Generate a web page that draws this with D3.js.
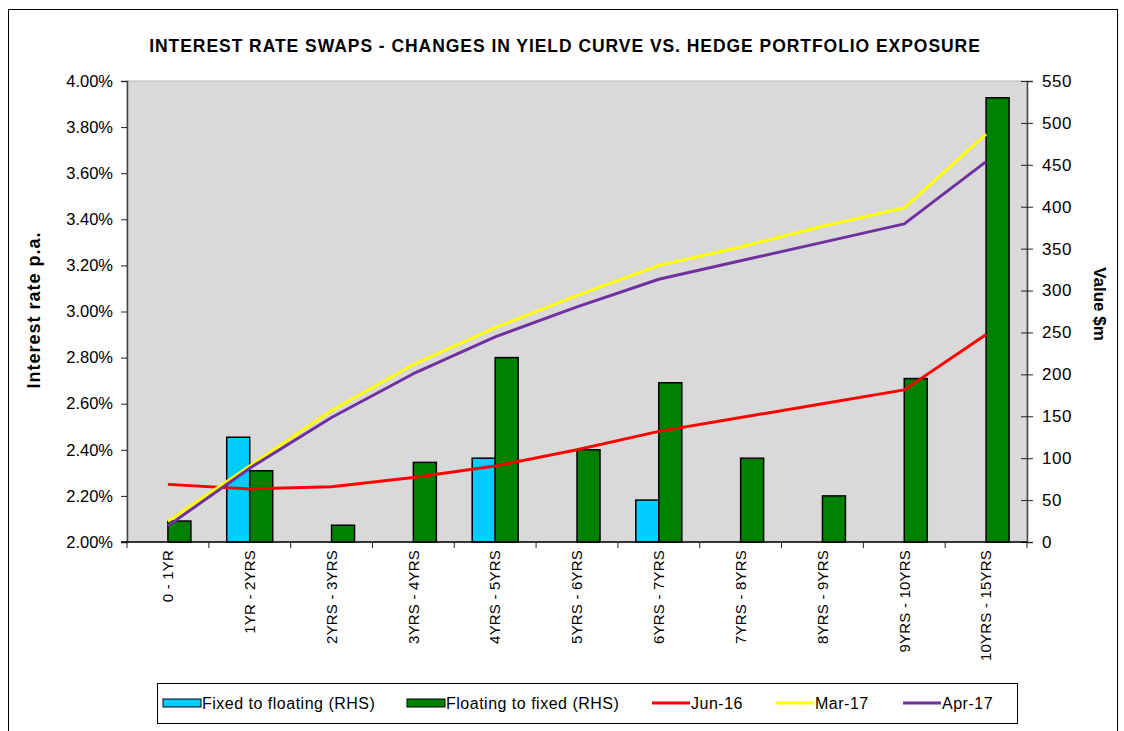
<!DOCTYPE html>
<html>
<head>
<meta charset="utf-8">
<script src="https://cdn.jsdelivr.net/npm/d3@7"></script>
<style>
  body { margin: 0; background: #fff; }
  svg text { font-family: "Liberation Sans", Arial, sans-serif; fill: #000; }
</style>
</head>
<body>
<div id="chart"></div>
<script>
// data
const categories = ["0 - 1YR", "1YR - 2YRS", "2YRS - 3YRS", "3YRS - 4YRS", "4YRS - 5YRS", "5YRS - 6YRS",
  "6YRS - 7YRS", "7YRS - 8YRS", "8YRS - 9YRS", "9YRS - 10YRS", "10YRS - 15YRS"];
const fixedToFloating = [0, 125, 0, 0, 100, 0, 50, 0, 0, 0, 0];
const floatingToFixed = [25, 85, 20, 95, 220, 110, 190, 100, 55, 195, 530];
const jun16 = [2.25, 2.23, 2.24, 2.28, 2.33, 2.40, 2.48, 2.54, 2.60, 2.66, 2.90];
const mar17 = [2.09, 2.33, 2.57, 2.77, 2.93, 3.07, 3.20, 3.28, 3.37, 3.45, 3.77];
const apr17 = [2.07, 2.32, 2.54, 2.73, 2.89, 3.02, 3.14, 3.22, 3.30, 3.38, 3.65];
const leftTicks = [2.0, 2.2, 2.4, 2.6, 2.8, 3.0, 3.2, 3.4, 3.6, 3.8, 4.0];
const rightTicks = [0, 50, 100, 150, 200, 250, 300, 350, 400, 450, 500, 550];

const W = 1124, H = 731;
const plot = { left: 127, right: 1027, top: 81, bottom: 542 };

const svg = d3.select('#chart').append('svg')
  .attr('width', W)
  .attr('height', H);

// outer chart border
svg.append('rect')
  .attr('x', 8.5).attr('y', 9.5)
  .attr('width', 1109).attr('height', 730)
  .attr('fill', '#fff').attr('stroke', '#000').attr('stroke-width', 1);

// title
svg.append('text')
  .attr('x', 565).attr('y', 52)
  .attr('text-anchor', 'middle')
  .style('font-size', '17.5px').style('font-weight', 'bold')
  .style('letter-spacing', '0.95px')
  .text('INTEREST RATE SWAPS - CHANGES IN YIELD CURVE VS. HEDGE PORTFOLIO EXPOSURE');

// scales
const x0 = d3.scaleBand().domain(categories).range([plot.left, plot.right]);
const bw = x0.bandwidth();
const x1 = d3.scaleBand().domain(['fixed', 'floating']).range([bw * 0.219, bw * 0.781]);
const yL = d3.scaleLinear().domain([2, 4]).range([plot.bottom, plot.top]);
const yR = d3.scaleLinear().domain([0, 550]).range([plot.bottom, plot.top]);

// plot area
svg.append('rect')
  .attr('x', plot.left).attr('y', plot.top)
  .attr('width', plot.right - plot.left).attr('height', plot.bottom - plot.top)
  .attr('fill', '#d9d9d9').attr('stroke', '#b5b5b5').attr('stroke-width', 1);

// bars
const barData = [];
categories.forEach((c, i) => {
  if (fixedToFloating[i] > 0) barData.push({ c: c, k: 'fixed', v: fixedToFloating[i] });
  if (floatingToFixed[i] > 0) barData.push({ c: c, k: 'floating', v: floatingToFixed[i] });
});
const colors = { fixed: '#00ccff', floating: '#008000' };

svg.append('g').selectAll('rect')
  .data(barData)
  .enter()
  .append('rect')
  .attr('x', d => x0(d.c) + x1(d.k))
  .attr('y', d => yR(d.v))
  .attr('width', x1.bandwidth())
  .attr('height', d => yR(0) - yR(d.v))
  .attr('fill', d => colors[d.k])
  .attr('stroke', '#000')
  .attr('stroke-width', 1.5);

// lines
const line = d3.line()
  .x((d, i) => x0(categories[i]) + bw / 2)
  .y(d => yL(d));

const series = [
  { name: 'Jun-16', values: jun16, color: '#ff0000' },
  { name: 'Mar-17', values: mar17, color: '#ffff00' },
  { name: 'Apr-17', values: apr17, color: '#7030a0' }
];

series.forEach(s => {
  svg.append('path')
    .datum(s.values)
    .attr('d', line)
    .attr('fill', 'none')
    .attr('stroke', s.color)
    .attr('stroke-width', 3)
    .attr('stroke-linejoin', 'round');
});

// left axis
const axL = svg.append('g')
  .attr('transform', 'translate(' + plot.left + ',0)')
  .call(d3.axisLeft(yL).tickValues(leftTicks).tickFormat(d => d.toFixed(2) + '%').tickSize(6).tickPadding(8));
axL.select('.domain').attr('stroke', '#444').attr('stroke-width', 1.5);
axL.selectAll('.tick line').attr('stroke', '#222');
axL.selectAll('.tick text').style('font-size', '16.5px').style('font-family', '"Liberation Sans", Arial, sans-serif');

// right axis
const axR = svg.append('g')
  .attr('transform', 'translate(' + plot.right + ',0)')
  .call(d3.axisRight(yR).tickValues(rightTicks).tickSize(6).tickPadding(9));
axR.select('.domain').attr('stroke', '#444').attr('stroke-width', 1.5);
axR.selectAll('.tick line').attr('x1', -6).attr('stroke', '#222');
axR.selectAll('.tick text').style('font-size', '17px').style('letter-spacing', '0.5px')
  .style('font-family', '"Liberation Sans", Arial, sans-serif');

// bottom axis
const axB = svg.append('g');
axB.append('line')
  .attr('x1', plot.left - 6).attr('x2', plot.right)
  .attr('y1', plot.bottom).attr('y2', plot.bottom)
  .attr('stroke', '#000').attr('stroke-width', 1.5);
const bounds = categories.map(c => x0(c)).concat([plot.right]);
axB.selectAll('.btick')
  .data(bounds)
  .enter()
  .append('line')
  .attr('x1', d => d).attr('x2', d => d)
  .attr('y1', plot.bottom).attr('y2', plot.bottom + 6)
  .attr('stroke', '#222');
axB.selectAll('.blabel')
  .data(categories)
  .enter()
  .append('text')
  .attr('transform', d => 'translate(' + (x0(d) + bw / 2) + ',' + (plot.bottom + 8) + ') rotate(-90)')
  .attr('text-anchor', 'end')
  .attr('dy', '0.35em')
  .style('font-size', '15px')
  .style('letter-spacing', '0.2px')
  .text(d => d);

// axis titles
svg.append('text')
  .attr('transform', 'translate(40,310) rotate(-90)')
  .attr('text-anchor', 'middle')
  .style('font-size', '18px').style('font-weight', 'bold')
  .style('letter-spacing', '1px')
  .text('Interest rate p.a.');

svg.append('text')
  .attr('transform', 'translate(1094,304) rotate(90)')
  .attr('text-anchor', 'middle')
  .style('font-size', '17px').style('font-weight', 'bold')
  .text('Value $m');

// legend
const lg = svg.append('g');
lg.append('rect')
  .attr('x', 157.5).attr('y', 683.5)
  .attr('width', 860).attr('height', 40)
  .attr('fill', '#fff').attr('stroke', '#000').attr('stroke-width', 1);

const legendItems = [
  { label: 'Fixed to floating (RHS)', type: 'bar', color: '#00ccff', x: 163 },
  { label: 'Floating to fixed (RHS)', type: 'bar', color: '#008000', x: 407 },
  { label: 'Jun-16', type: 'line', color: '#ff0000', x: 652 },
  { label: 'Mar-17', type: 'line', color: '#ffff00', x: 776 },
  { label: 'Apr-17', type: 'line', color: '#7030a0', x: 903 }
];

legendItems.forEach(d => {
  if (d.type === 'bar') {
    lg.append('rect')
      .attr('x', d.x).attr('y', 699)
      .attr('width', 38).attr('height', 8)
      .attr('fill', d.color).attr('stroke', '#000').attr('stroke-width', 1);
  } else {
    lg.append('line')
      .attr('x1', d.x).attr('x2', d.x + 38)
      .attr('y1', 703).attr('y2', 703)
      .attr('stroke', d.color).attr('stroke-width', 3);
  }
  lg.append('text')
    .attr('x', d.x + 39).attr('y', 709)
    .style('font-size', '16px')
    .style('letter-spacing', '0.5px')
    .text(d.label);
});
</script>
</body>
</html>
